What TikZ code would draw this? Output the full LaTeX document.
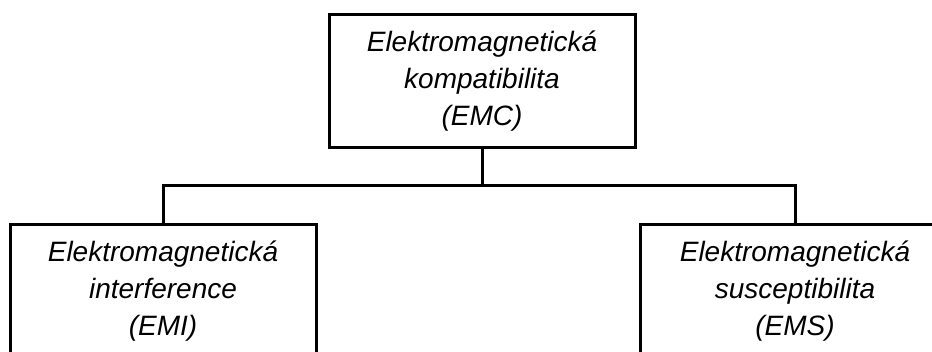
\documentclass[tikz,border=0pt]{standalone}
\usepackage{fontspec}
\setmainfont{Liberation Sans}
\begin{document}
\begin{tikzpicture}[x=1pt,y=1pt,
  box/.style={draw=black, line width=3pt, fill=white, minimum width=306pt,
    minimum height=133pt, inner sep=0pt, align=center,
    font=\fontsize{28}{37}\selectfont\itshape},
  wire/.style={draw=black, line width=3pt}]
  \useasboundingbox (0,0) rectangle (932,-351);
  \clip (0,0) rectangle (932,-351);

  % junction of the bus between the top box and the two lower boxes
  \coordinate (bus) at (482,-185);

  \node[box, anchor=north] (emc) at (482,-13)
    {Elektromagnetická\\kompatibilita\\(EMC)};
  \node[box, anchor=north] (emi) at (163,-223)
    {Elektromagnetická\\interference\\(EMI)};
  \node[box, anchor=north, minimum width=310pt] (ems) at (795,-223)
    {Elektromagnetická\\susceptibilita\\(EMS)};

  \draw[wire] (emc.south) -- (bus);
  \draw[wire] (emi.north) |- (bus) -| (ems.north);
\end{tikzpicture}
\end{document}
